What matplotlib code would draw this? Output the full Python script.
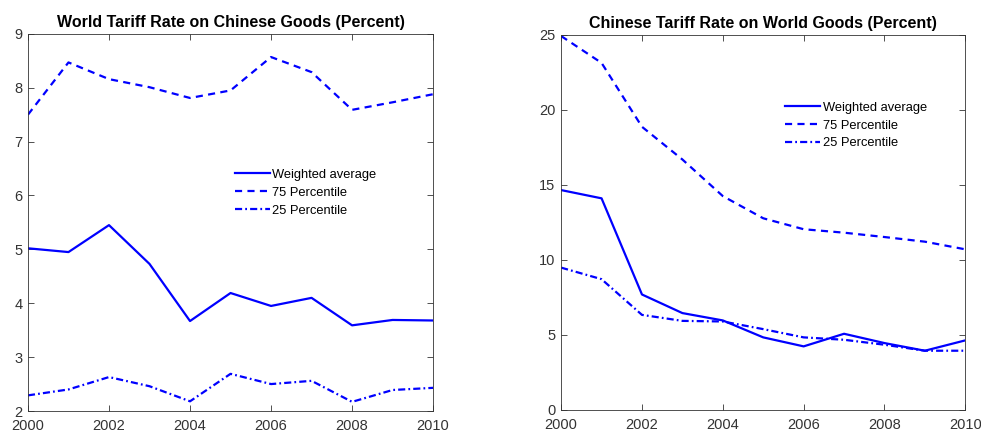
import matplotlib
matplotlib.use("Agg")
import matplotlib.pyplot as plt

plt.rcParams['font.family'] = ['Liberation Sans', 'DejaVu Sans']

years = list(range(2000, 2011))

# world tariff on chinese goods
world_avg = [5.02, 4.95, 5.45, 4.73, 3.67, 4.19, 3.95, 4.10, 3.59, 3.69, 3.68]
world_p75 = [7.50, 8.47, 8.16, 8.01, 7.81, 7.95, 8.57, 8.29, 7.59, 7.73, 7.88]
world_p25 = [2.29, 2.40, 2.63, 2.46, 2.18, 2.69, 2.50, 2.56, 2.17, 2.39, 2.43]

# chinese tariff on world goods
china_avg = [14.66, 14.11, 7.70, 6.46, 5.97, 4.84, 4.24, 5.08, 4.46, 3.95, 4.64]
china_p75 = [24.93, 23.14, 18.88, 16.70, 14.26, 12.78, 12.05, 11.82, 11.53, 11.22, 10.71]
china_p25 = [9.49, 8.72, 6.34, 5.94, 5.90, 5.39, 4.84, 4.68, 4.35, 3.95, 3.95]

labels = ['Weighted average', '75 Percentile', '25 Percentile']

fig = plt.figure(figsize=(9.81, 4.32), dpi=100)
ax1 = fig.add_axes([0.0285, 0.0486, 0.413, 0.873])
ax2 = fig.add_axes([0.572, 0.051, 0.412, 0.868])

def panel(ax, avg, p75, p25, title, ylim, yticks, leg_xy):
    blue = (0, 0, 1)
    ax.plot(years, avg, color=blue, lw=1.6, ls='-', label=labels[0])
    ax.plot(years, p75, color=blue, lw=1.6, ls=(0, (3.2, 2.4)), label=labels[1])
    ax.plot(years, p25, color=blue, lw=1.6, ls=(0, (3.2, 1.4, 0.8, 1.4)), label=labels[2])
    ax.set_xlim(2000, 2010)
    ax.set_ylim(*ylim)
    ax.set_xticks(range(2000, 2011, 2))
    ax.set_yticks(yticks)
    ax.tick_params(direction='in', top=True, right=True, length=4, width=0.6,
                   labelsize=10.5, colors='#333333')
    ax.tick_params(axis='x', pad=5.5)
    ax.tick_params(axis='y', pad=4)
    for s in ax.spines.values():
        s.set_color('#333333')
        s.set_linewidth(0.6)
    ax.set_title(title, fontsize=11.5, fontweight='bold', pad=5)
    ax.legend(loc='upper left', bbox_to_anchor=leg_xy, frameon=False, fontsize=9.3,
              handlelength=2.7, handletextpad=0.2, labelspacing=0.45,
              borderpad=0, borderaxespad=0)

panel(ax1, world_avg, world_p75, world_p25,
      'World Tariff Rate on Chinese Goods (Percent)', (2, 9), range(2, 10), (0.511, 0.642))
panel(ax2, china_avg, china_p75, china_p25,
      'Chinese Tariff Rate on World Goods (Percent)', (0, 25), range(0, 26, 5), (0.554, 0.822))

fig.savefig('out.png', dpi=100)
